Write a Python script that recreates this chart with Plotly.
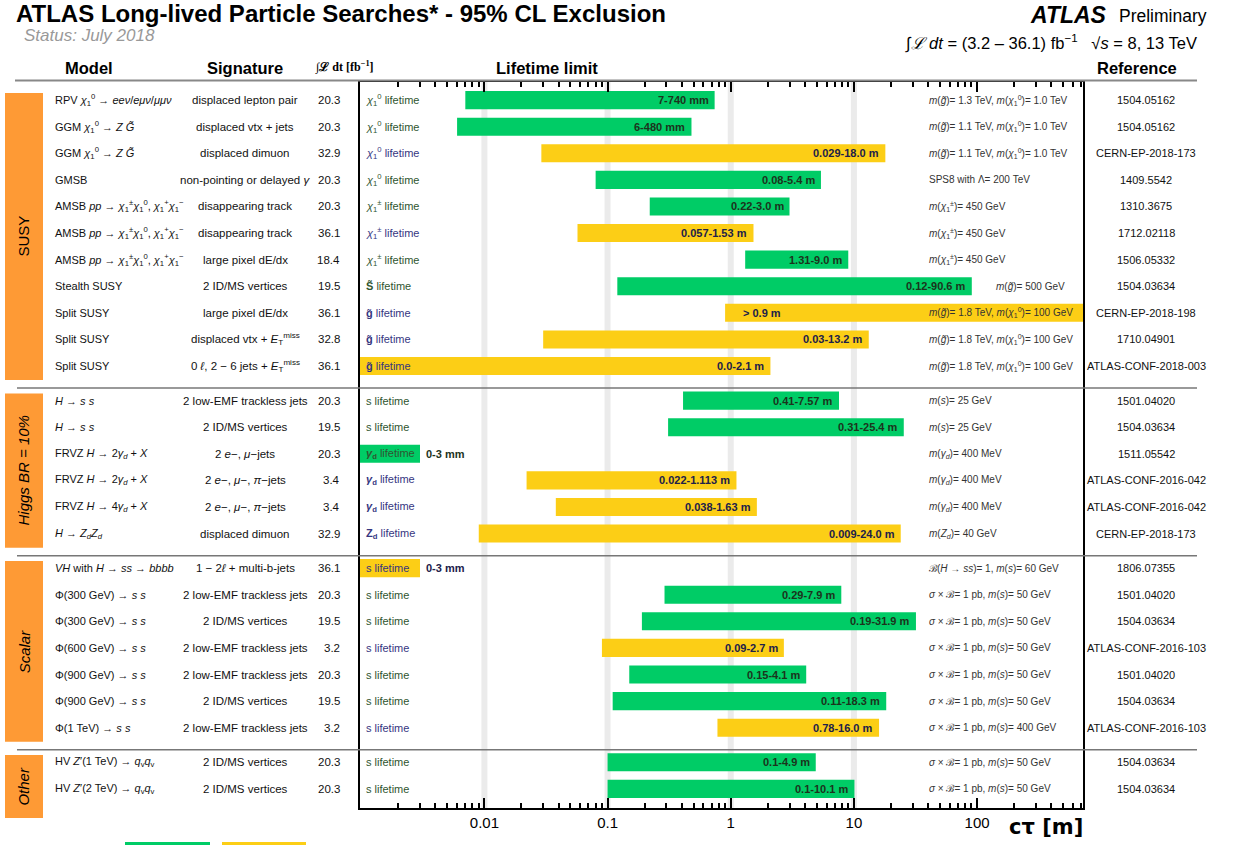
import math
import plotly.graph_objects as go

# ---------------- data ----------------
models = [
    "RPV <i>χ</i><sub>1</sub><sup>0</sup> → <i>eeν</i>/<i>eμν</i>/<i>μμν</i>",
    "GGM <i>χ</i><sub>1</sub><sup>0</sup> → <i>Z G̃</i>",
    "GGM <i>χ</i><sub>1</sub><sup>0</sup> → <i>Z G̃</i>",
    "GMSB",
    "AMSB <i>pp</i> → <i>χ</i><sub>1</sub><sup>±</sup><i>χ</i><sub>1</sub><sup>0</sup>, <i>χ</i><sub>1</sub><sup>+</sup><i>χ</i><sub>1</sub><sup>−</sup>",
    "AMSB <i>pp</i> → <i>χ</i><sub>1</sub><sup>±</sup><i>χ</i><sub>1</sub><sup>0</sup>, <i>χ</i><sub>1</sub><sup>+</sup><i>χ</i><sub>1</sub><sup>−</sup>",
    "AMSB <i>pp</i> → <i>χ</i><sub>1</sub><sup>±</sup><i>χ</i><sub>1</sub><sup>0</sup>, <i>χ</i><sub>1</sub><sup>+</sup><i>χ</i><sub>1</sub><sup>−</sup>",
    "Stealth SUSY",
    "Split SUSY",
    "Split SUSY",
    "Split SUSY",
    "<i>H</i> → <i>s s</i>",
    "<i>H</i> → <i>s s</i>",
    "FRVZ <i>H</i> → 2<i>γ</i><sub><i>d</i></sub> + <i>X</i>",
    "FRVZ <i>H</i> → 2<i>γ</i><sub><i>d</i></sub> + <i>X</i>",
    "FRVZ <i>H</i> → 4<i>γ</i><sub><i>d</i></sub> + <i>X</i>",
    "<i>H</i> → <i>Z</i><sub><i>d</i></sub><i>Z</i><sub><i>d</i></sub>",
    "<i>VH</i> with <i>H</i> → <i>ss</i> → <i>bbbb</i>",
    "Φ(300 GeV) → <i>s s</i>",
    "Φ(300 GeV) → <i>s s</i>",
    "Φ(600 GeV) → <i>s s</i>",
    "Φ(900 GeV) → <i>s s</i>",
    "Φ(900 GeV) → <i>s s</i>",
    "Φ(1 TeV) → <i>s s</i>",
    "HV <i>Z</i>′(1 TeV) → <i>q</i><sub>v</sub><i>q</i><sub>v</sub>",
    "HV <i>Z</i>′(2 TeV) → <i>q</i><sub>v</sub><i>q</i><sub>v</sub>",
]

signatures = [
    "displaced lepton pair",
    "displaced vtx + jets",
    "displaced dimuon",
    "non-pointing or delayed <i>γ</i>",
    "disappearing track",
    "disappearing track",
    "large pixel dE/dx",
    "2 ID/MS vertices",
    "large pixel dE/dx",
    "displaced vtx + <i>E</i><sub>T</sub><sup>miss</sup>",
    "0 <i>ℓ</i>, 2 − 6 jets + <i>E</i><sub>T</sub><sup>miss</sup>",
    "2 low-EMF trackless jets",
    "2 ID/MS vertices",
    "2 <i>e</i>−, <i>μ</i>−jets",
    "2 <i>e</i>−, <i>μ</i>−, <i>π</i>−jets",
    "2 <i>e</i>−, <i>μ</i>−, <i>π</i>−jets",
    "displaced dimuon",
    "1 − 2<i>ℓ</i> + multi-b-jets",
    "2 low-EMF trackless jets",
    "2 ID/MS vertices",
    "2 low-EMF trackless jets",
    "2 low-EMF trackless jets",
    "2 ID/MS vertices",
    "2 low-EMF trackless jets",
    "2 ID/MS vertices",
    "2 ID/MS vertices",
]

lumis = ["20.3", "20.3", "32.9", "20.3", "20.3", "36.1", "18.4", "19.5", "36.1", "32.8", "36.1",
         "20.3", "19.5", "20.3", "3.4", "3.4", "32.9",
         "36.1", "20.3", "19.5", "3.2", "20.3", "19.5", "3.2",
         "20.3", "20.3"]

chi0 = "<i>χ</i><sub>1</sub><sup>0</sup> lifetime"
chipm = "<i>χ</i><sub>1</sub><sup>±</sup> lifetime"
gl = "<b>g̃</b> lifetime"
gd = "<b><i>γ</i><sub>d</sub></b> lifetime"
sl = "s lifetime"
particles = [chi0, chi0, chi0, chi0, chipm, chipm, chipm, "<b>S̃</b> lifetime", gl, gl, gl,
             sl, sl, gd, gd, gd, "<b>Z<sub>d</sub></b> lifetime",
             sl, sl, sl, sl, sl, sl, sl,
             sl, sl]

# lifetime limits in metres (0 = down to the lower edge, None = open upper limit)
lows = [0.007, 0.006, 0.029, 0.08, 0.22, 0.057, 1.31, 0.12, 0.9, 0.03, 0.0,
        0.41, 0.31, 0.0, 0.022, 0.038, 0.009,
        0.0, 0.29, 0.19, 0.09, 0.15, 0.11, 0.78,
        0.1, 0.1]
highs = [0.74, 0.48, 18.0, 5.4, 3.0, 1.53, 9.0, 90.6, None, 13.2, 2.1,
         7.57, 25.4, 0.003, 1.113, 1.63, 24.0,
         0.003, 7.9, 31.9, 2.7, 4.1, 18.3, 16.0,
         4.9, 10.1]
range_labels = ["7-740 mm", "6-480 mm", "0.029-18.0 m", "0.08-5.4 m", "0.22-3.0 m", "0.057-1.53 m",
                "1.31-9.0 m", "0.12-90.6 m", "> 0.9 m", "0.03-13.2 m", "0.0-2.1 m",
                "0.41-7.57 m", "0.31-25.4 m", "0-3 mm", "0.022-1.113 m", "0.038-1.63 m", "0.009-24.0 m",
                "0-3 mm", "0.29-7.9 m", "0.19-31.9 m", "0.09-2.7 m", "0.15-4.1 m", "0.11-18.3 m", "0.78-16.0 m",
                "0.1-4.9 m", "0.1-10.1 m"]
energies = ["8", "8", "13", "8", "8", "13", "8", "8", "13", "13", "13",
            "8", "8", "8", "13", "13", "13",
            "13", "8", "8", "13", "8", "8", "13",
            "8", "8"]

mg = "<i>m</i>(<i>g̃</i>)"
mchi0 = "<i>m</i>(<i>χ</i><sub>1</sub><sup>0</sup>)"
mchipm = "<i>m</i>(<i>χ</i><sub>1</sub><sup>±</sup>)= 450 GeV"
sxb50 = "<i>σ</i> × ℬ= 1 pb, <i>m</i>(<i>s</i>)= 50 GeV"
mgd = "<i>m</i>(<i>γ<sub>d</sub></i>)= 400 MeV"
conditions = [
    mg + "= 1.3 TeV, " + mchi0 + "= 1.0 TeV",
    mg + "= 1.1 TeV, " + mchi0 + "= 1.0 TeV",
    mg + "= 1.1 TeV, " + mchi0 + "= 1.0 TeV",
    "SPS8 with Λ= 200 TeV",
    mchipm, mchipm, mchipm,
    mg + "= 500 GeV",
    mg + "= 1.8 TeV, " + mchi0 + "= 100 GeV",
    mg + "= 1.8 TeV, " + mchi0 + "= 100 GeV",
    mg + "= 1.8 TeV, " + mchi0 + "= 100 GeV",
    "<i>m</i>(<i>s</i>)= 25 GeV",
    "<i>m</i>(<i>s</i>)= 25 GeV",
    mgd, mgd, mgd,
    "<i>m</i>(<i>Z<sub>d</sub></i>)= 40 GeV",
    "ℬ(<i>H</i> → <i>ss</i>)= 1, <i>m</i>(<i>s</i>)= 60 GeV",
    sxb50, sxb50, sxb50, sxb50, sxb50,
    "<i>σ</i> × ℬ= 1 pb, <i>m</i>(<i>s</i>)= 400 GeV",
    sxb50, sxb50,
]

references = ["1504.05162", "1504.05162", "CERN-EP-2018-173", "1409.5542", "1310.3675", "1712.02118",
              "1506.05332", "1504.03634", "CERN-EP-2018-198", "1710.04901", "ATLAS-CONF-2018-003",
              "1501.04020", "1504.03634", "1511.05542", "ATLAS-CONF-2016-042", "ATLAS-CONF-2016-042",
              "CERN-EP-2018-173",
              "1806.07355", "1501.04020", "1504.03634", "ATLAS-CONF-2016-103", "1501.04020", "1504.03634",
              "ATLAS-CONF-2016-103",
              "1504.03634", "1504.03634"]

group_names = ["SUSY", "Higgs BR = 10%", "Scalar", "Other"]
group_sizes = [11, 6, 7, 2]

decade_ticks = [0.01, 0.1, 1, 10, 100]
tick_text = ["0.01", "0.1", "1", "10", "100"]
band_decades = [0.01, 0.1, 1, 10]

# ---------------- geometry / style ----------------
W, H = 1233, 845
L, R, T, B = 360, 150, 82, 37
PW, PH = W - L - R, H - T - B
XMIN_LOG, XMAX_LOG = -3.01, 2.86
YTOP, YBOT = -0.68, 26.62
GAP = 0.3
BAR_W = 0.68
GREEN, YELLOW = "#00CC66", "#FCCE16"
FONT = "Liberation Sans, Arial, Helvetica, sans-serif"
TXT_GREEN, TXT_YELLOW = "#1c331c", "#20204a"
LBL_GREEN, LBL_YELLOW = "#2f5530", "#36367f"
ORANGE = "#FE9A35"


def xp(px):
    return (px - L) / PW


def yp(py):
    return (T + PH - py) / PH


def yu2p(u):
    return (YBOT - u) / (YBOT - YTOP)


def xlog2p(v):
    return (math.log10(v) - XMIN_LOG) / (XMAX_LOG - XMIN_LOG)


group_of = []
for g, n in enumerate(group_sizes):
    group_of += [g] * n
pos = [i + GAP * group_of[i] for i in range(len(models))]

xmin_val = 10 ** XMIN_LOG
xmax_val = 10 ** XMAX_LOG
cond_log = XMIN_LOG + (927 - L) / PW * (XMAX_LOG - XMIN_LOG)

fig = go.Figure()

ann = []
shapes = []

# light vertical bands at decades (below the bars)
for v in band_decades:
    shapes.append(dict(type="line", xref="paper", yref="paper", x0=xlog2p(v), x1=xlog2p(v), y0=0, y1=1,
                       line=dict(color="#ebebeb", width=6), layer="below"))

# bars
for en, col in (("8", GREEN), ("13", YELLOW)):
    ys, bases, lens = [], [], []
    for i in range(len(models)):
        if energies[i] != en:
            continue
        lo = lows[i] if lows[i] > 0 else xmin_val
        hi = highs[i] if highs[i] is not None else xmax_val
        ys.append(pos[i])
        bases.append(lo)
        lens.append(hi - lo)
    fig.add_trace(go.Bar(y=ys, x=lens, base=bases, orientation="h", width=BAR_W,
                         marker=dict(color=col, line=dict(width=0)),
                         hoverinfo="skip", showlegend=False))

for i in range(len(models)):
    y = pos[i]
    green = energies[i] == "8"
    lo = lows[i] if lows[i] > 0 else xmin_val
    hi = highs[i] if highs[i] is not None else xmax_val
    # left columns
    ann.append(dict(x=xp(53), y=y, xref="paper", yref="y", text=models[i], showarrow=False,
                    xanchor="left", yanchor="middle", font=dict(size=11, color="#111", family=FONT)))
    ann.append(dict(x=xp(245), y=y, xref="paper", yref="y", text=signatures[i], showarrow=False,
                    xanchor="center", yanchor="middle", font=dict(size=11.5, color="#111", family=FONT)))
    ann.append(dict(x=xp(342), y=y, xref="paper", yref="y", text=lumis[i], showarrow=False,
                    xanchor="right", yanchor="middle", font=dict(size=11.5, color="#111", family=FONT)))
    # particle label
    ann.append(dict(x=xp(364), y=y, xref="paper", yref="y", text=particles[i], showarrow=False,
                    xanchor="left", yanchor="middle",
                    font=dict(size=11, color=LBL_GREEN if green else LBL_YELLOW, family=FONT)))
    # range label
    tcol = TXT_GREEN if green else TXT_YELLOW
    if highs[i] is None:
        ann.append(dict(x=math.log10(lo), y=y, xref="x", yref="y", text="<b>" + range_labels[i] + "</b>",
                        showarrow=False, xanchor="left", yanchor="middle", xshift=16,
                        font=dict(size=11, color=tcol, family=FONT)))
    elif math.log10(hi) - math.log10(lo) < 0.6:
        ann.append(dict(x=math.log10(hi), y=y, xref="x", yref="y", text="<b>" + range_labels[i] + "</b>",
                        showarrow=False, xanchor="left", yanchor="middle", xshift=4,
                        font=dict(size=11, color=tcol, family=FONT)))
    else:
        ann.append(dict(x=math.log10(hi), y=y, xref="x", yref="y", text="<b>" + range_labels[i] + "</b>",
                        showarrow=False, xanchor="right", yanchor="middle", xshift=-4,
                        font=dict(size=11, color=tcol, family=FONT)))
    # conditions
    if highs[i] is not None and math.log10(hi) > cond_log:
        ann.append(dict(x=math.log10(hi), y=y, xref="x", yref="y", text=conditions[i], showarrow=False,
                        xanchor="left", yanchor="middle", xshift=22,
                        font=dict(size=10, color="#333", family=FONT)))
    else:
        ann.append(dict(x=xp(927), y=y, xref="paper", yref="y", text=conditions[i], showarrow=False,
                        xanchor="left", yanchor="middle",
                        font=dict(size=10, color="#333", family=FONT)))
    # reference
    ann.append(dict(x=xp(1146), y=y, xref="paper", yref="y", text=references[i], showarrow=False,
                    xanchor="center", yanchor="middle", font=dict(size=11, color="#111", family=FONT)))

# groups: orange boxes and separators
start = 0
for g, n in enumerate(group_sizes):
    first_u = pos[start]
    last_u = pos[start + n - 1]
    top_u = first_u - 0.27
    bot_u = max(last_u + 0.53, top_u + 2.37)
    shapes.append(dict(type="rect", xref="paper", yref="paper", x0=xp(5), x1=xp(43),
                       y0=yu2p(bot_u), y1=yu2p(top_u), fillcolor=ORANGE, line=dict(width=0), layer="above"))
    name = group_names[g] if g == 0 else "<i>" + group_names[g] + "</i>"
    ann.append(dict(x=xp(24), y=yu2p((top_u + bot_u) / 2), xref="paper", yref="paper", text=name,
                    showarrow=False, textangle=-90, xanchor="center", yanchor="middle",
                    font=dict(size=15, color="black", family=FONT)))
    if g > 0:
        sep = (pos[start - 1] + pos[start]) / 2 + 0.18
        shapes.append(dict(type="line", xref="paper", yref="y", x0=xp(17), x1=xp(1197), y0=sep, y1=sep,
                           line=dict(color="#777", width=1.5), layer="above"))
    start += n

# header line
shapes.append(dict(type="line", xref="paper", yref="paper", x0=xp(15), x1=xp(1197), y0=yp(80.5), y1=yp(80.5),
                   line=dict(color="#888", width=2)))

# legend swatches at the bottom edge
shapes.append(dict(type="rect", xref="paper", yref="paper", x0=xp(125), x1=xp(210), y0=yp(860), y1=yp(842),
                   fillcolor=GREEN, line=dict(width=0)))
shapes.append(dict(type="rect", xref="paper", yref="paper", x0=xp(222), x1=xp(306), y0=yp(860), y1=yp(842),
                   fillcolor=YELLOW, line=dict(width=0)))

# header texts
ann += [
    dict(x=xp(14), y=yp(14), xref="paper", yref="paper", xanchor="left", yanchor="middle", showarrow=False,
         text="<b>ATLAS Long-lived Particle Searches* - 95% CL Exclusion</b>",
         font=dict(size=24, color="black", family=FONT)),
    dict(x=xp(22), y=yp(36), xref="paper", yref="paper", xanchor="left", yanchor="middle", showarrow=False,
         text="<i>Status: July 2018</i>", font=dict(size=17, color="#999", family=FONT)),
    dict(x=xp(1109), y=yp(15), xref="paper", yref="paper", xanchor="right", yanchor="middle", showarrow=False,
         text="<b><i>ATLAS</i></b>", font=dict(size=23, color="black", family=FONT)),
    dict(x=xp(1117), y=yp(16), xref="paper", yref="paper", xanchor="left", yanchor="middle", showarrow=False,
         text="Preliminary", font=dict(size=17.5, color="black", family=FONT)),
    dict(x=xp(1199), y=yp(42), xref="paper", yref="paper", xanchor="right", yanchor="middle", showarrow=False,
         text="∫<i>ℒ dt</i> = (3.2 – 36.1) fb<sup>−1</sup>   √<i>s</i> = 8, 13 TeV",
         font=dict(size=16.5, color="black", family=FONT)),
    dict(x=xp(89), y=yp(68), xref="paper", yref="paper", xanchor="center", yanchor="middle", showarrow=False,
         text="<b>Model</b>", font=dict(size=16.5, color="black", family=FONT)),
    dict(x=xp(245), y=yp(68), xref="paper", yref="paper", xanchor="center", yanchor="middle", showarrow=False,
         text="<b>Signature</b>", font=dict(size=16.5, color="black", family=FONT)),
    dict(x=xp(344), y=yp(67), xref="paper", yref="paper", xanchor="center", yanchor="middle", showarrow=False,
         text="<b>∫ℒ dt [fb<sup>−1</sup>]</b>", font=dict(size=12, color="black", family="Liberation Serif, serif")),
    dict(x=xp(547), y=yp(68), xref="paper", yref="paper", xanchor="center", yanchor="middle", showarrow=False,
         text="<b>Lifetime limit</b>", font=dict(size=16.5, color="black", family=FONT)),
    dict(x=xp(1137), y=yp(68), xref="paper", yref="paper", xanchor="center", yanchor="middle", showarrow=False,
         text="<b>Reference</b>", font=dict(size=16.5, color="black", family=FONT)),
    dict(x=xp(1046), y=yp(827), xref="paper", yref="paper", xanchor="center", yanchor="middle", showarrow=False,
         text="<b>cτ [m]</b>", font=dict(size=21, color="black", family="DejaVu Sans, sans-serif")),
]

minor_vals = [m * 10 ** e for e in range(-3, 3) for m in range(2, 10)]

fig.update_layout(
    width=W, height=H,
    margin=dict(l=L, r=R, t=T, b=B, pad=0),
    paper_bgcolor="white", plot_bgcolor="rgba(0,0,0,0)",
    showlegend=False,
    barmode="overlay",
    font=dict(family=FONT),
    xaxis=dict(type="log", range=[XMIN_LOG, XMAX_LOG], tickmode="array", tickvals=decade_ticks,
               ticktext=tick_text, ticks="inside", ticklen=10, tickwidth=1.5, tickcolor="black",
               showline=True, linecolor="black", linewidth=2, mirror="allticks",
               showgrid=False, zeroline=False, tickfont=dict(size=15, color="black", family=FONT),
               minor=dict(tickmode="array", tickvals=minor_vals, ticks="inside", ticklen=5, tickwidth=1.5,
                          tickcolor="black", showgrid=False)),
    yaxis=dict(range=[YBOT, YTOP], showline=True, linecolor="black", linewidth=2, mirror=True,
               ticks="", showticklabels=False, showgrid=False, zeroline=False),
    annotations=ann,
    shapes=shapes,
)

fig.write_html("out.html", config={"displayModeBar": False},
               post_script="document.body.style.margin='0';")
